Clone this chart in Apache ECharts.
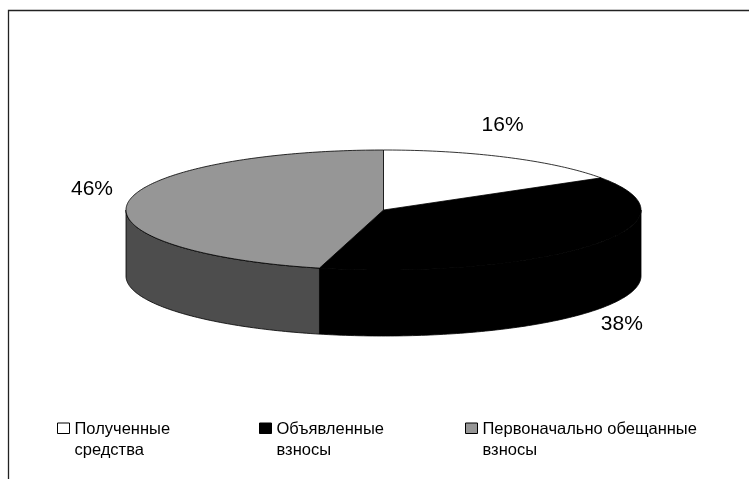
<!DOCTYPE html>
<html><head><meta charset="utf-8">
<style>html,body{margin:0;padding:0;background:#fff}#c{width:749px;height:479px}</style>
<script src="https://cdn.jsdelivr.net/npm/echarts@6/dist/echarts.min.js"></script>
</head><body><div id="c"></div>
<script>
const categories = ['Полученные\nсредства', 'Объявленные\nвзносы', 'Первоначально обещанные\nвзносы'];
const shares = [16, 38, 46];
const topColors = ['#ffffff', '#000000', '#969696'];
const sideColors = ['#ffffff', '#000000', '#4d4d4d'];
const labelOffsets = [[-5, -32], [30, 13], [-36, -13]];
const legendLefts = [57, 259, 465];

const P = {cx: 383.5, cy: 210, rx: 257.5, ry: 60, depth: 66};
const total = shares.reduce((a, b) => a + b, 0);
const rim = (deg, drop) => {
  const r = deg * Math.PI / 180;
  return [P.cx + P.rx * Math.sin(r), P.cy - P.ry * Math.cos(r) + (drop || 0)];
};
const arc = (a, b, drop) => {
  const pts = [], n = Math.max(2, Math.ceil(Math.abs(b - a)));
  for (let i = 0; i <= n; i++) pts.push(rim(a + (b - a) * i / n, drop));
  return pts;
};

const series = categories.map((name, idx) => ({
  type: 'custom',
  name,
  coordinateSystem: 'none',
  silent: true,
  z: idx === 0 ? 3 : 2,
  itemStyle: {color: topColors[idx]},
  data: [shares[idx]],
  renderItem: (params, api) => {
    const before = shares.slice(0, idx).reduce((a, b) => a + b, 0);
    const v = api.value(0);
    const a0 = before / total * 360, a1 = (before + v) / total * 360;
    const children = [];
    const s0 = Math.max(a0, 90), s1 = Math.min(a1, 270);
    if (s1 > s0) {
      const front = arc(s0, s1, 0), back = arc(s1, s0, P.depth);
      children.push({type: 'polygon', shape: {points: front.concat(back)},
        style: {fill: sideColors[idx], stroke: '#000', lineWidth: 0.8}});
    }
    const top = [[P.cx, P.cy]].concat(arc(a0, a1, 0));
    children.push({type: 'polygon', shape: {points: top},
      style: {fill: topColors[idx], stroke: '#000', lineWidth: 0.8}});
    const mid = (a0 + a1) / 2;
    const base = rim(mid, mid > 90 && mid < 270 ? P.depth : 0);
    children.push({type: 'text', style: {
      text: v + '%', x: base[0] + labelOffsets[idx][0], y: base[1] + labelOffsets[idx][1],
      fill: '#000', font: '21px "Liberation Sans"', align: 'center', verticalAlign: 'middle'}});
    return {type: 'group', children};
  }
}));

const legend = categories.map((name, idx) => ({
  left: legendLefts[idx], top: 418.5, orient: 'vertical', padding: 0,
  itemWidth: 12, itemHeight: 33, itemGap: 0, selectedMode: false,
  textStyle: {fontFamily: 'Liberation Sans', fontSize: 16.5, lineHeight: 21, color: '#000'},
  data: [{name, icon: 'path://M0 0H12V10.5H0Z M12 33',
    itemStyle: {color: topColors[idx], borderColor: '#000', borderWidth: 1}}]
}));

const chart = echarts.init(document.getElementById('c'), null, {renderer: 'canvas'});
chart.setOption({
  animation: false,
  backgroundColor: '#fff',
  legend,
  graphic: [{type: 'polyline', silent: true,
    shape: {points: [[8.5, 479], [8.5, 10.5], [749, 10.5]]},
    style: {fill: null, stroke: '#222', lineWidth: 1.3}}],
  series
});
</script></body></html>
